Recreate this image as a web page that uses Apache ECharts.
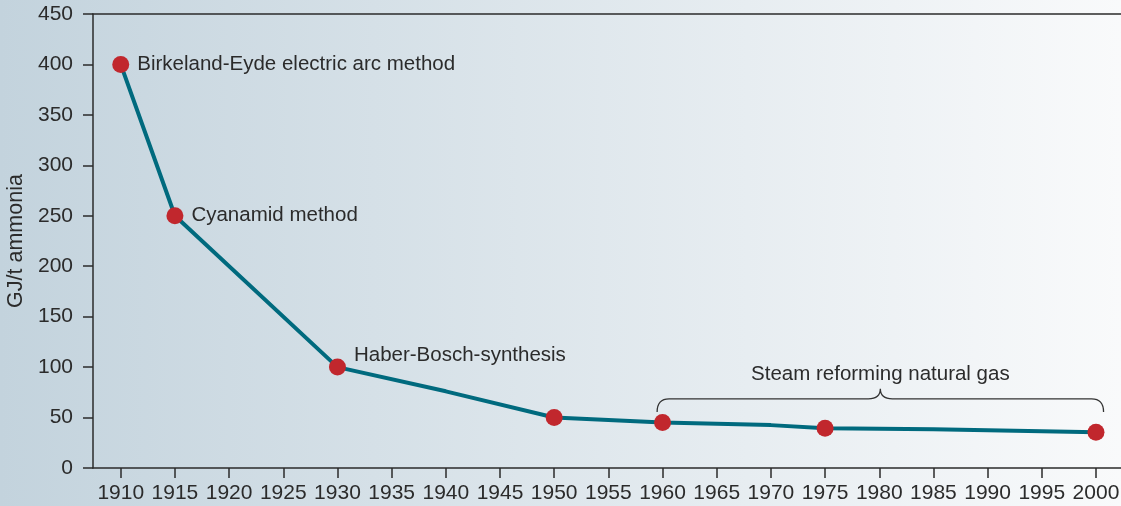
<!DOCTYPE html>
<html>
<head>
<meta charset="utf-8">
<script src="https://cdn.jsdelivr.net/npm/echarts@6/dist/echarts.min.js"></script>
<style>
  html, body { margin: 0; padding: 0; }
  #main { width: 1121px; height: 506px; }
</style>
</head>
<body>
<div id="main"></div>
<script>
// energy demand of ammonia production, GJ per tonne
const years = [1910, 1915, 1930, 1940, 1950, 1960, 1970, 1975, 1985, 2000];
const energy = [400, 250, 100, 76, 50, 45, 42.5, 39.5, 38.5, 35.5];
// points that get a red dot
const markedYears = [1910, 1915, 1930, 1950, 1960, 1975, 2000];
const methodLabels = {
  1910: "Birkeland-Eyde electric arc method",
  1915: "Cyanamid method",
  1930: "Haber-Bosch-synthesis"
};
const xTicks = [1910, 1915, 1920, 1925, 1930, 1935, 1940, 1945, 1950, 1955,
  1960, 1965, 1970, 1975, 1980, 1985, 1990, 1995, 2000];
// brace over the natural gas period: [startYear, endYear, level, peak]
const braceSpan = [1959.5, 2000.7, 68.5, 78.5];
const braceText = "Steam reforming natural gas";

const font = "Liberation Sans";
const textColor = "#2b2b2b";

const lineData = years.map((y, i) => [y, energy[i]]);
const dotData = years
  .map((y, i) => [y, energy[i]])
  .filter((d) => markedYears.includes(d[0]));

const myChart = echarts.init(document.getElementById("main"));

myChart.setOption({
  animation: false,
  backgroundColor: new echarts.graphic.LinearGradient(0, 0, 1, 0, [
    { offset: 0, color: "#c3d3dd" },
    { offset: 1, color: "#f9fafb" }
  ]),
  grid: { left: 93, right: 0, top: 14, bottom: 38, outerBoundsMode: "none" },
  xAxis: [
    {
      type: "value",
      min: 1907.44,
      max: 2002.31,
      axisLine: { lineStyle: { color: textColor, width: 1.5 } },
      axisTick: {
        customValues: xTicks,
        length: 10,
        lineStyle: { color: textColor, width: 1.5 }
      },
      axisLabel: {
        customValues: xTicks,
        formatter: (v) => String(v),
        margin: 15,
        fontSize: 21,
        fontFamily: font,
        color: textColor
      },
      splitLine: { show: false }
    },
    {
      type: "value",
      position: "top",
      min: 1907.44,
      max: 2002.31,
      axisLine: { show: true, lineStyle: { color: textColor, width: 1.5 } },
      axisTick: { show: false },
      axisLabel: { show: false },
      splitLine: { show: false }
    }
  ],
  yAxis: {
    type: "value",
    min: 0,
    max: 450,
    interval: 50,
    name: "GJ/t ammonia",
    nameLocation: "middle",
    nameGap: 66,
    nameTextStyle: { fontSize: 21.5, fontFamily: font, color: textColor },
    axisLine: { show: true, lineStyle: { color: textColor, width: 1.5 } },
    axisTick: { show: true, length: 10, lineStyle: { color: textColor, width: 1.5 } },
    axisLabel: { margin: 20, fontSize: 21, fontFamily: font, color: textColor },
    splitLine: { show: false }
  },
  series: [
    {
      type: "line",
      data: lineData,
      symbol: "none",
      lineStyle: { color: "#006a7e", width: 4 },
      z: 2
    },
    {
      type: "scatter",
      data: dotData,
      symbolSize: 17,
      itemStyle: { color: "#c1272d", opacity: 1 },
      label: {
        show: true,
        position: "right",
        distance: 8,
        fontSize: 20.5,
        fontFamily: font,
        color: textColor,
        formatter: (p) => methodLabels[p.value[0]] || ""
      },
      labelLayout: (p) =>
        p.text === methodLabels[1930] ? { dy: -12 } : {},
      z: 3
    },
    {
      type: "custom",
      data: [braceSpan],
      renderItem: (params, api) => {
        const x0 = api.value(0), x1 = api.value(1);
        const lvl = api.value(2), peak = api.value(3);
        const xm = (x0 + x1) / 2;
        const a = api.coord([x0, lvl - 13]);
        const b = api.coord([x0, lvl]);
        const c = api.coord([xm, lvl]);
        const d = api.coord([xm, peak]);
        const e = api.coord([x1, lvl]);
        const f = api.coord([x1, lvl - 13]);
        const r = 12;
        const path =
          `M${a[0]},${a[1]} Q${b[0]},${b[1]} ${b[0] + r},${b[1]} ` +
          `L${c[0] - r},${c[1]} Q${c[0]},${c[1]} ${d[0]},${d[1]} ` +
          `Q${c[0]},${c[1]} ${c[0] + r},${c[1]} ` +
          `L${e[0] - r},${e[1]} Q${e[0]},${e[1]} ${f[0]},${f[1]}`;
        return {
          type: "group",
          children: [
            {
              type: "path",
              shape: { pathData: path },
              style: { fill: null, stroke: "#333", lineWidth: 1.3 }
            },
            {
              type: "text",
              x: d[0],
              y: d[1] - 14,
              style: {
                text: braceText,
                fontSize: 20.5,
                fontFamily: font,
                fill: textColor,
                align: "center",
                verticalAlign: "middle"
              }
            }
          ]
        };
      },
      z: 4
    }
  ]
});
</script>
</body>
</html>
